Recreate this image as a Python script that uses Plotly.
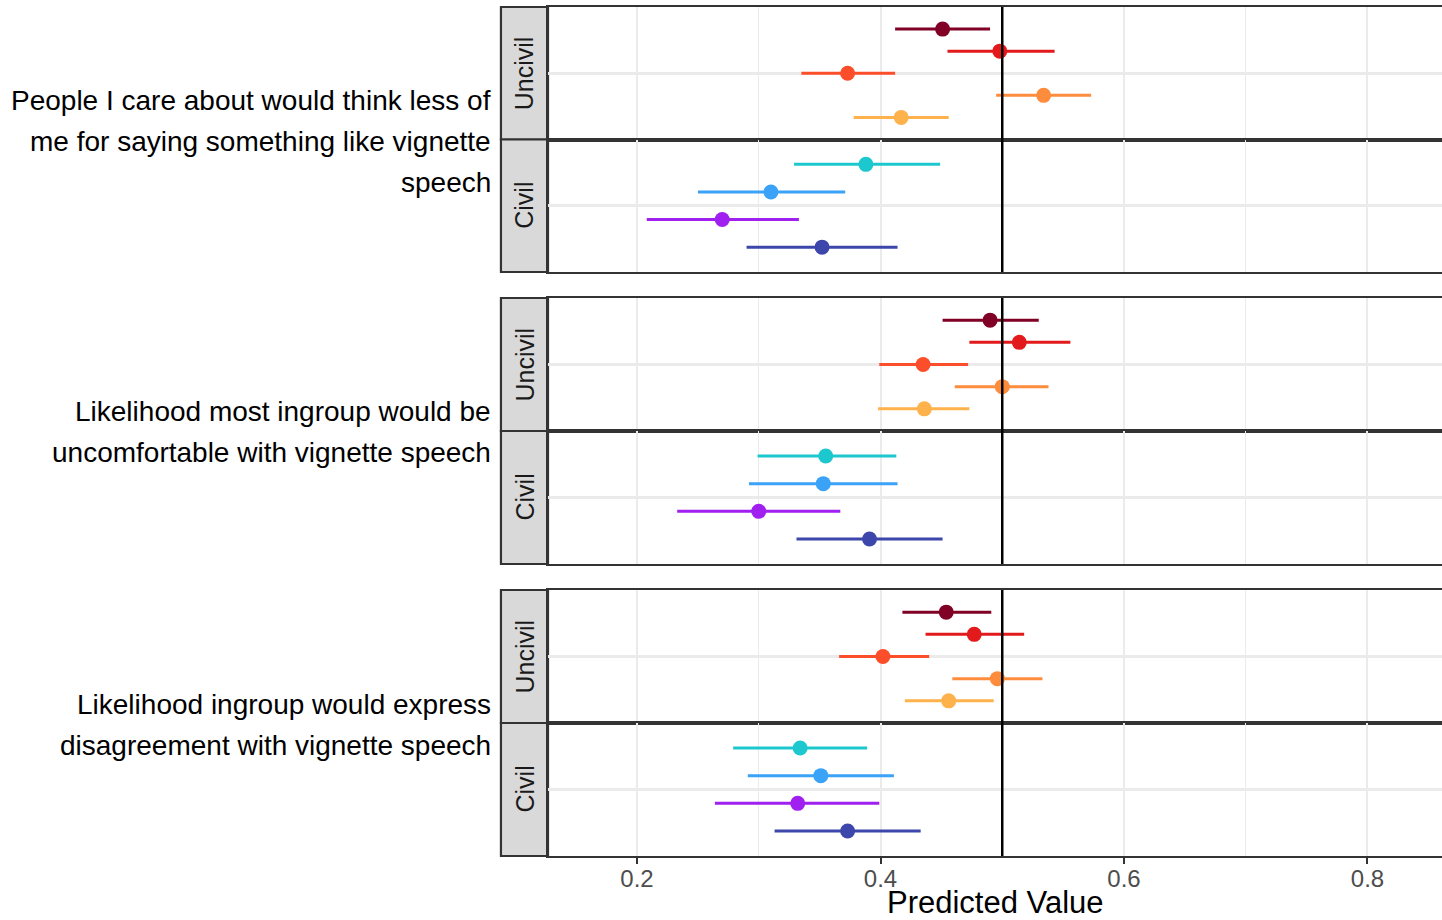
import plotly.graph_objects as go

# ---- data -------------------------------------------------------------
outcome_lines = [
    ["People I care about would think less of",
     "me for saying something like vignette",
     "speech"],
    ["Likelihood most ingroup would be",
     "uncomfortable with vignette speech"],
    ["Likelihood ingroup would express",
     "disagreement with vignette speech"],
]
conditions = ["Uncivil", "Civil"]

uncivil_colors = ["#800026", "#E31A1C", "#FC4E2A", "#FD8D3C", "#FEB24C"]
civil_colors = ["#1CC8CE", "#3AA2F7", "#A020F0", "#3C46AB"]

# estimates and 95% intervals, one row per outcome
est_uncivil = [[0.451, 0.498, 0.373, 0.534, 0.417],
               [0.490, 0.514, 0.435, 0.500, 0.436],
               [0.454, 0.477, 0.402, 0.496, 0.456]]
lo_uncivil = [[0.412, 0.455, 0.335, 0.495, 0.378],
              [0.451, 0.473, 0.399, 0.461, 0.398],
              [0.418, 0.437, 0.366, 0.459, 0.420]]
hi_uncivil = [[0.490, 0.543, 0.412, 0.573, 0.456],
              [0.530, 0.556, 0.472, 0.538, 0.473],
              [0.491, 0.518, 0.440, 0.533, 0.493]]

est_civil = [[0.388, 0.310, 0.270, 0.352],
             [0.355, 0.353, 0.300, 0.391],
             [0.334, 0.351, 0.332, 0.373]]
lo_civil = [[0.329, 0.250, 0.208, 0.290],
            [0.299, 0.292, 0.233, 0.331],
            [0.279, 0.291, 0.264, 0.313]]
hi_civil = [[0.449, 0.371, 0.333, 0.414],
            [0.413, 0.414, 0.367, 0.451],
            [0.389, 0.411, 0.399, 0.433]]

x_ticks = [0.2, 0.4, 0.6, 0.8]
ref_value = 0.5

# ---- layout geometry (pixels) ----------------------------------------
W, H = 1442, 920
ML, MR, MT, MB = 500, 0, 7, 64
PW, PH = W - ML - MR, H - MT - MB
STRIP_W = 48
x_dom = [STRIP_W / PW, 1.0]
x_range = [0.1269, 0.8612]

# vertical pixel extents of each outcome block (top, bottom)
blocks = [(7, 272), (298, 564), (590, 856)]


def py(px):
    return (MT + PH - px) / PH


fig = go.Figure()
layout = {}
shapes = []
annotations = []
FONT = "Liberation Sans, Arial, sans-serif"

sets = [
    (est_uncivil, lo_uncivil, hi_uncivil, uncivil_colors),
    (est_civil, lo_civil, hi_civil, civil_colors),
]

k = 0
for oi, (top, bot) in enumerate(blocks):
    mid = (top + bot) / 2
    for ci, cond in enumerate(conditions):
        k += 1
        xa = "x" if k == 1 else f"x{k}"
        ya = "y" if k == 1 else f"y{k}"
        p_top, p_bot = (top, mid) if ci == 0 else (mid, bot)
        est, lo, hi, cols = sets[ci]
        n = len(cols)
        # dodge the groups within a single category (width 1)
        for g in range(n):
            yv = 1 + 0.5 - (g + 0.5) / n
            e = est[oi][g]
            fig.add_trace(go.Scatter(
                x=[e], y=[yv], xaxis=xa, yaxis=ya, mode="markers",
                marker=dict(size=15, color=cols[g]),
                error_x=dict(type="data", symmetric=False,
                             array=[hi[oi][g] - e],
                             arrayminus=[e - lo[oi][g]],
                             color=cols[g], thickness=3, width=0),
                showlegend=False, hoverinfo="x",
            ))
        is_bottom = (k == 6)
        layout["xaxis" if k == 1 else f"xaxis{k}"] = dict(
            domain=x_dom, anchor=ya, range=x_range,
            tickvals=x_ticks, ticktext=[f"{v:.1f}" for v in x_ticks],
            showticklabels=is_bottom,
            ticks="outside" if is_bottom else "",
            ticklen=6, tickwidth=2, tickcolor="#333333",
            ticklabelstandoff=-6,
            tickfont=dict(family=FONT, size=24, color="#4D4D4D"),
            showgrid=True, gridcolor="#EBEBEB", gridwidth=2,
            minor=dict(tickvals=[0.3, 0.5, 0.7], showgrid=True,
                       gridcolor="#EBEBEB", gridwidth=1.2),
            showline=True, linecolor="#333333", linewidth=2.2, mirror=True,
            zeroline=False, fixedrange=True,
        )
        layout["yaxis" if k == 1 else f"yaxis{k}"] = dict(
            domain=[py(p_bot), py(p_top)], anchor=xa, range=[0.4, 1.6],
            tickvals=[1], showticklabels=False, ticks="",
            showgrid=True, gridcolor="#EBEBEB", gridwidth=2.5,
            showline=True, linecolor="#333333", linewidth=2.2, mirror=False,
            zeroline=False, fixedrange=True,
        )
        # reference line at 0.5
        shapes.append(dict(type="line", xref=xa, yref=f"{ya} domain",
                           x0=ref_value, x1=ref_value, y0=0, y1=1,
                           line=dict(color="black", width=2.5), layer="above"))
        # facet strip on the left
        shapes.append(dict(type="rect", xref="paper", yref="paper",
                           x0=0.001, x1=STRIP_W / PW, y0=py(p_bot), y1=py(p_top),
                           fillcolor="#D9D9D9",
                           line=dict(color="#333333", width=2.2), layer="below"))
        annotations.append(dict(
            text=cond, xref="paper", yref="paper",
            x=(STRIP_W / 2) / PW, y=py((p_top + p_bot) / 2),
            textangle=-90, showarrow=False, xanchor="center", yanchor="middle",
            font=dict(family=FONT, size=25, color="#1A1A1A"),
        ))
    # outcome label, right-aligned against the strips
    lines = outcome_lines[oi]
    spacing = 41
    c = mid + 1.5
    for li, txt in enumerate(lines):
        ypx = c + (li - (len(lines) - 1) / 2) * spacing
        annotations.append(dict(
            text=txt, xref="paper", yref="paper",
            x=-7 / PW, y=py(ypx), xanchor="right", yanchor="middle",
            showarrow=False, font=dict(family=FONT, size=28, color="black"),
        ))

annotations.append(dict(
    text="Predicted Value", xref="paper", yref="paper",
    x=(x_dom[0] + x_dom[1]) / 2, y=py(902), xanchor="center", yanchor="middle",
    showarrow=False, font=dict(family=FONT, size=31, color="black"),
))

fig.update_layout(
    width=W, height=H,
    margin=dict(l=ML, r=MR, t=MT, b=MB),
    paper_bgcolor="white", plot_bgcolor="white",
    shapes=shapes, annotations=annotations,
    showlegend=False,
    **layout,
)

fig.write_html("out.html", include_plotlyjs=True)
